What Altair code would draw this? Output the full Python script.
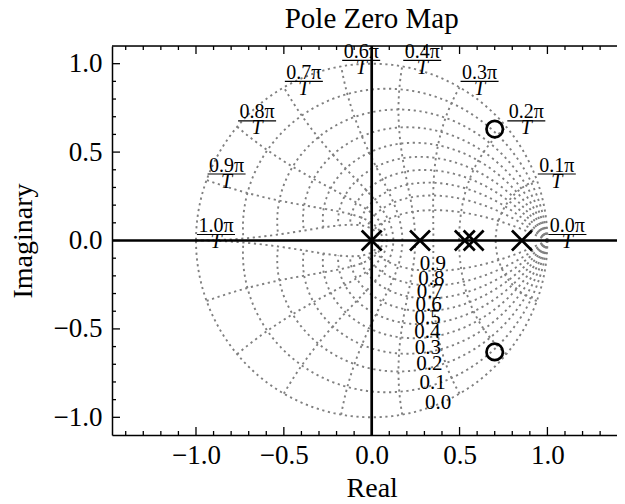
import altair as alt
import numpy as np
import pandas as pd

alt.data_transformers.disable_max_rows()

# ---- data ----
pole_re = [0.0, 0.275, 0.53, 0.58, 0.855]
pole_im = [0.0, 0.0, 0.0, 0.0, 0.0]
zero_re = [0.70, 0.70]
zero_im = [0.63, -0.63]

# z-plane grid specification (damping ratios and natural frequencies)
zetas = [0.0, 0.1, 0.2, 0.3, 0.4, 0.5, 0.6, 0.7, 0.8, 0.9]
wns = [0 / 9, 1 / 9, 2 / 9, 3 / 9, 4 / 9, 5 / 9, 6 / 9, 7 / 9, 8 / 9, 9 / 9]

x_major = [-1.0, -0.5, 0.0, 0.5, 1.0]
x_minor = [-1.4, -1.3, -1.2, -1.1, -0.9, -0.8, -0.7, -0.6, -0.4, -0.3, -0.2, -0.1,
           0.1, 0.2, 0.3, 0.4, 0.6, 0.7, 0.8, 0.9, 1.1, 1.2, 1.3]
y_major = [-1.0, -0.5, 0.0, 0.5, 1.0]
y_minor = [-0.9, -0.8, -0.7, -0.6, -0.4, -0.3, -0.2, -0.1,
           0.1, 0.2, 0.3, 0.4, 0.6, 0.7, 0.8, 0.9]

title_text = ["Pole Zero Map"]

X_DOMAIN = [-1.478, 1.396]
Y_DOMAIN = [-1.1, 1.1]
W, H = 505, 389
FONT = "Liberation Serif"
GREY = "#808080"

# ---- grid curves (constant damping / constant natural frequency) ----
rows = []
zlab = []
gid = 0
N = 200
for z in zetas:
    factor = z / np.sqrt(1 - z ** 2)
    t = np.linspace(0, np.sqrt(1 - z ** 2), N)
    ang = np.pi * t
    mag = np.exp(-np.pi * factor * t)
    for sgn in (1, -1):
        xs = mag * np.cos(sgn * ang)
        ys = mag * np.sin(sgn * ang)
        for i in range(N):
            rows.append({"g": gid, "i": i, "x": xs[i], "y": ys[i]})
        gid += 1
    k = int(N / 2.5)
    zlab.append({"x": xs[k], "y": ys[k], "t": f"{round(z, 2)}"})

flab = []
for a in wns:
    t = np.linspace(-np.pi / 2, np.pi / 2, N)
    ang = np.pi * a * np.sin(t)
    mag = np.exp(-np.pi * a * np.cos(t))
    xs = mag * np.cos(ang)
    ys = mag * np.sin(ang)
    if a > 0:
        for i in range(N):
            rows.append({"g": gid, "i": i, "x": xs[i], "y": ys[i]})
        gid += 1
    flab.append({"x": xs[-1], "y": ys[-1], "t": "{:1.1f}\u03c0".format(a)})

grid_df = pd.DataFrame(rows)
zlab_df = pd.DataFrame(zlab)
flab_df = pd.DataFrame(flab)
poles_df = pd.DataFrame({"re": pole_re, "im": pole_im})
zeros_df = pd.DataFrame({"re": zero_re, "im": zero_im})

minus = "\u2212"
xscale = alt.Scale(domain=X_DOMAIN, nice=False, zero=False)
yscale = alt.Scale(domain=Y_DOMAIN, nice=False, zero=False)

x_axis = alt.Axis(
    values=x_major, labelExpr=f"replace(format(datum.value, '.1f'), '-', '{minus}')",
    ticks=False, grid=False, domain=True, domainColor="black", domainWidth=1.5,
    labelFont=FONT, labelFontSize=27, labelColor="black", labelPadding=28,
    labelBaseline="alphabetic", labelFlush=False, labelOverlap=False,
    title="Real", titleFont=FONT, titleFontSize=28, titleFontWeight="normal",
    titleColor="black", titleX=259.7, titleY=61, titleBaseline="alphabetic",
    titleAlign="center",
)
y_axis = alt.Axis(
    values=y_major, labelExpr=f"replace(format(datum.value, '.1f'), '-', '{minus}')",
    ticks=False, grid=False, domain=True, domainColor="black", domainWidth=1.5,
    labelFont=FONT, labelFontSize=27, labelColor="black", labelPadding=10,
    labelBaseline="middle", labelFlush=False, labelOverlap=False,
    title="Imaginary", titleFont=FONT, titleFontSize=28, titleFontWeight="normal",
    titleColor="black", titleX=-89, titleY=H / 2, titleAngle=270,
    titleBaseline="middle", titleAlign="center",
)

grid = alt.Chart(grid_df).mark_line(
    color=GREY, strokeWidth=1.9, strokeDash=[2.2, 3.6], clip=True
).encode(
    x=alt.X("x:Q", scale=xscale, axis=x_axis),
    y=alt.Y("y:Q", scale=yscale, axis=y_axis),
    detail="g:N",
    order="i:Q",
)

hline = alt.Chart(pd.DataFrame({"y": [0.0]})).mark_rule(
    color="black", strokeWidth=2.7
).encode(y=alt.Y("y:Q", scale=yscale))
vline = alt.Chart(pd.DataFrame({"x": [0.0]})).mark_rule(
    color="black", strokeWidth=2.7
).encode(x=alt.X("x:Q", scale=xscale))

top_frame = alt.Chart(pd.DataFrame({"a": [0]})).mark_rule(
    color="black", strokeWidth=1.5
).encode(x=alt.value(0), x2=alt.value(W + 4), y=alt.value(0))


def xticks(vals, ln):
    d = pd.DataFrame({"v": vals})
    bottom = alt.Chart(d).mark_rule(color="black", strokeWidth=1.3).encode(
        x=alt.X("v:Q", scale=xscale), y=alt.value(H), y2=alt.value(H - ln))
    top = alt.Chart(d).mark_rule(color="black", strokeWidth=1.3).encode(
        x=alt.X("v:Q", scale=xscale), y=alt.value(0), y2=alt.value(ln))
    return bottom + top


def yticks(vals, ln):
    d = pd.DataFrame({"v": vals})
    return alt.Chart(d).mark_rule(color="black", strokeWidth=1.3).encode(
        y=alt.Y("v:Q", scale=yscale), x=alt.value(0), x2=alt.value(ln))


ticks = xticks(x_major, 8) + xticks(x_minor, 4) + yticks(y_major, 8) + yticks(y_minor, 4)

zeta_text = alt.Chart(zlab_df).mark_text(
    font=FONT, fontSize=21, color="black", align="left", baseline="alphabetic"
).encode(x=alt.X("x:Q", scale=xscale), y=alt.Y("y:Q", scale=yscale), text="t:N")

num_text = alt.Chart(flab_df).mark_text(
    font=FONT, fontSize=20, color="black", align="center", baseline="alphabetic",
    dx=20, dy=-8.5
).encode(x=alt.X("x:Q", scale=xscale), y=alt.Y("y:Q", scale=yscale), text="t:N")

bar = alt.Chart(flab_df).mark_point(
    shape="M-1,0L1,0", size=38 * 38, filled=False, color="black",
    strokeWidth=1.2, xOffset=20, yOffset=-6, opacity=1
).encode(x=alt.X("x:Q", scale=xscale), y=alt.Y("y:Q", scale=yscale))

den_text = alt.Chart(flab_df).mark_text(
    font=FONT, fontSize=20, fontStyle="italic", color="black", align="center",
    baseline="alphabetic", dx=20, dy=7.5
).encode(x=alt.X("x:Q", scale=xscale), y=alt.Y("y:Q", scale=yscale),
         text=alt.value("T"))

poles = alt.Chart(poles_df).mark_point(
    shape="M-1,-1L1,1M-1,1L1,-1", size=400, filled=False, color="black",
    strokeWidth=2.7, opacity=1
).encode(x=alt.X("re:Q", scale=xscale), y=alt.Y("im:Q", scale=yscale))

zeros = alt.Chart(zeros_df).mark_point(
    shape="circle", size=270, filled=False, color="black", strokeWidth=2.7,
    opacity=1
).encode(x=alt.X("re:Q", scale=xscale), y=alt.Y("im:Q", scale=yscale))

title = alt.Chart(pd.DataFrame({"t": title_text, "x": [0.0]})).mark_text(
    font=FONT, fontSize=29, color="black", align="center", baseline="alphabetic"
).encode(x=alt.X("x:Q", scale=xscale), y=alt.value(-18.5), text="t:N")

chart = alt.layer(
    grid, hline, vline, zeta_text, num_text, bar, den_text, poles, zeros,
    ticks, top_frame, title,
).properties(
    width=W, height=H,
    autosize=alt.AutoSizeParams(type="none"),
    padding={"left": 104, "top": 38, "right": 0, "bottom": 65},
).configure_view(stroke=None).configure(background="white")

chart.save("out.html", embed_options={"renderer": "svg", "actions": False})
